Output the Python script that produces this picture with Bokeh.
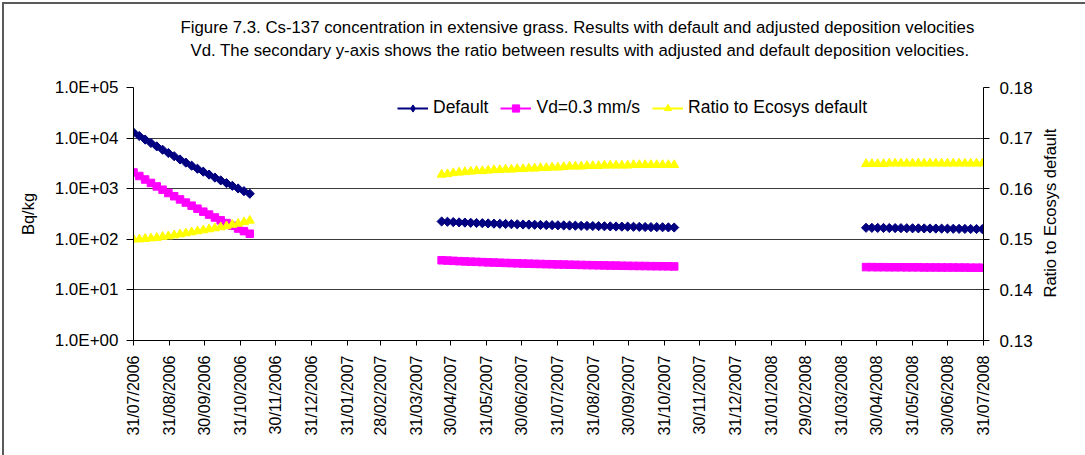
import math
import numpy as np
import pandas as pd
from bokeh.plotting import figure
from bokeh.models import (Range1d, LinearAxis, LinearScale, FixedTicker,
                          Legend, LegendItem, Title)
from bokeh.embed import file_html
from bokeh.resources import INLINE

FONT = "Liberation Sans"

title_lines = [
    "Figure 7.3. Cs-137 concentration in extensive grass. Results with default and adjusted deposition velocities",
    "Vd. The secondary y-axis shows the ratio between results with adjusted and default deposition velocities.",
]

# first output date of each growing season; results every 5 days
season_starts = ["2006-07-31", "2007-04-22", "2008-04-21"]
step_days = 5

# Bq/kg with the default deposition velocity
default_bq = [
    [12900, 11000, 9350, 8000, 6860, 5890, 5070, 4380, 3780, 3280, 2850,
     2480, 2170, 1900, 1660, 1460, 1290, 1140, 1010, 893, 795],
    [225, 222, 219, 216, 214, 212, 210, 208, 206, 204, 202, 201, 199, 198,
     196, 195, 194, 192, 191, 190, 189, 188, 187, 186, 185, 184, 183, 182,
     181, 180, 179, 178, 178, 177, 176, 175, 174, 174, 173, 172, 171],
    [169, 168.5, 168, 167.5, 167, 166.5, 166, 165.5, 165, 164.5, 164, 163.5,
     163, 162.5, 162, 161.5, 161, 160.5, 160, 159.5, 159],
]

# Bq/kg with Vd = 0.3 mm/s
vd03_bq = [
    [2090, 1780, 1520, 1300, 1110, 955, 822, 710, 614, 532, 462, 403, 352,
     308, 270, 237, 209, 185, 163, 145, 129],
    [38.5, 38.0, 37.5, 37.0, 36.6, 36.2, 35.8, 35.4, 35.0, 34.7, 34.4, 34.1,
     33.8, 33.5, 33.2, 33.0, 32.7, 32.5, 32.3, 32.1, 31.9, 31.7, 31.5, 31.3,
     31.1, 30.9, 30.8, 30.6, 30.5, 30.3, 30.2, 30.0, 29.9, 29.8, 29.7, 29.6,
     29.5, 29.4, 29.3, 29.2, 29.1],
    [28.2, 28.2, 28.1, 28.1, 28.0, 28.0, 28.0, 27.9, 27.9, 27.9, 27.8, 27.8,
     27.8, 27.7, 27.7, 27.7, 27.6, 27.6, 27.5, 27.5, 27.4],
]

# ratio to the Ecosys default (secondary axis)
ratio_vals = [
    [0.1500, 0.1500, 0.1501, 0.1502, 0.1503, 0.1505, 0.1506, 0.1508, 0.1510,
     0.1512, 0.1514, 0.1516, 0.1518, 0.1520, 0.1522, 0.1524, 0.1526, 0.1529,
     0.1531, 0.1534, 0.1537],
    [0.1628, 0.1629, 0.1631, 0.1632, 0.1633, 0.1634, 0.1635, 0.1635, 0.1636,
     0.1637, 0.1637, 0.1638, 0.1638, 0.1639, 0.1639, 0.1640, 0.1640, 0.1641,
     0.1641, 0.1642, 0.1642, 0.1643, 0.1644, 0.1644, 0.1644, 0.1645, 0.1645,
     0.1645, 0.1646, 0.1646, 0.1646, 0.1646, 0.1646, 0.1647, 0.1647, 0.1647,
     0.1647, 0.1647, 0.1647, 0.1647, 0.1647],
    [0.1649, 0.1649, 0.1649, 0.1649, 0.1650, 0.1650, 0.1650, 0.1650, 0.1650,
     0.1650, 0.1650, 0.1650, 0.1650, 0.1650, 0.1650, 0.1650, 0.1650, 0.1650,
     0.1650, 0.1650, 0.1650],
]

x_tick_labels = [
    "31/07/2006", "31/08/2006", "30/09/2006", "31/10/2006", "30/11/2006",
    "31/12/2006", "31/01/2007", "28/02/2007", "31/03/2007", "30/04/2007",
    "31/05/2007", "30/06/2007", "31/07/2007", "31/08/2007", "30/09/2007",
    "31/10/2007", "30/11/2007", "31/12/2007", "31/01/2008", "29/02/2008",
    "31/03/2008", "30/04/2008", "31/05/2008", "30/06/2008", "31/07/2008",
]
y_tick_values = [1, 10, 100, 1000, 10000, 100000]
y_tick_labels = ["1.0E+00", "1.0E+01", "1.0E+02", "1.0E+03", "1.0E+04", "1.0E+05"]
ratio_ticks = [0.13, 0.14, 0.15, 0.16, 0.17, 0.18]
ratio_tick_labels = ["0.13", "0.14", "0.15", "0.16", "0.17", "0.18"]
ratio_axis_title = "Ratio to Ecosys default"


def to_ms(dates):
    return list(pd.DatetimeIndex(dates).values.astype("datetime64[ms]").astype("int64").astype(float))


def joined(segments):
    """Concatenate the seasons, with a NaN break between them."""
    xs, ys = [], []
    for start, vals in zip(season_starts, segments):
        dates = pd.date_range(start, periods=len(vals), freq=f"{step_days}D")
        xs.extend(to_ms(dates))
        ys.extend(vals)
        xs.append(np.nan)
        ys.append(np.nan)
    return xs[:-1], ys[:-1]


x_ticks = to_ms(pd.to_datetime(x_tick_labels, format="%d/%m/%Y"))

p = figure(width=1085, height=455, x_axis_type="datetime", y_axis_type="log",
           x_range=Range1d(x_ticks[0], x_ticks[-1]), y_range=Range1d(1, 1e5),
           output_backend="svg", toolbar_location=None,
           min_border_left=133, min_border_right=102,
           min_border_top=87, min_border_bottom=115)
p.extra_y_ranges = {"ratio": Range1d(0.13, 0.18)}
p.extra_y_scales = {"ratio": LinearScale()}
p.outline_line_color = None
p.background_fill_color = "white"
p.border_fill_color = None
# chart-area frame line along the top and left edges of the page
p.styles = {"background-color": "white",
            "box-shadow": "inset 2px 2px 0 0 white, inset 4px 4px 0 0 #5a5a5a"}

# caption: two lines stacked above the plot area (first added sits nearest)
p.add_layout(Title(text=" ", text_font_size="10px", standoff=14), "above")
for line, off in ((title_lines[1], 57), (title_lines[0], 47)):
    p.add_layout(Title(text=line, text_font=FONT, text_font_size="16.8px",
                       text_font_style="normal", text_color="black",
                       align="left", offset=off, standoff=2), "above")

# axes
xax = p.xaxis[0]
xax.ticker = FixedTicker(ticks=x_ticks)
xax.major_label_overrides = dict(zip(x_ticks, x_tick_labels))
xax.major_label_orientation = math.pi / 2
xax.major_label_text_font_size = "16px"
xax.major_label_standoff = 10
xax.major_tick_out = 5
xax.major_tick_in = 0
xax.minor_tick_line_color = None

yax = p.yaxis[0]
yax.ticker = FixedTicker(ticks=y_tick_values)
yax.major_label_overrides = dict(zip(y_tick_values, y_tick_labels))
yax.axis_label = "Bq/kg"
yax.major_label_text_font_size = "17px"
yax.major_label_standoff = 8
yax.major_tick_out = 7
yax.major_tick_in = 0
yax.minor_tick_line_color = None
yax.axis_label_standoff = 15

rax = LinearAxis(y_range_name="ratio", ticker=FixedTicker(ticks=ratio_ticks))
rax.major_label_overrides = dict(zip(ratio_ticks, ratio_tick_labels))
rax.major_label_text_font_size = "17px"
rax.major_label_standoff = 10
rax.major_tick_out = 6
rax.major_tick_in = 0
rax.minor_tick_line_color = None
p.add_layout(rax, "right")

for ax in (xax, yax, rax):
    ax.axis_line_color = "black"
    ax.axis_line_width = 1
    ax.major_tick_line_color = "black"
    ax.major_label_text_font = FONT
    ax.major_label_text_color = "black"
    ax.axis_label_text_font = FONT
    ax.axis_label_text_font_size = "16.5px"
    ax.axis_label_text_font_style = "normal"
    ax.axis_label_text_color = "black"

# secondary axis title, reading bottom to top; its text starts at this ratio level
title_start = 0.1385
rtitle = LinearAxis(y_range_name="ratio", ticker=FixedTicker(ticks=[title_start]),
                    axis_line_color=None, major_tick_line_color=None,
                    minor_tick_line_color=None, major_label_standoff=9,
                    major_label_orientation=math.pi / 2,
                    major_label_text_font=FONT, major_label_text_font_size="16.5px",
                    major_label_text_color="black")
rtitle.major_label_overrides = {title_start: ratio_axis_title}
p.add_layout(rtitle, "right")

p.xgrid.visible = False
p.ygrid.ticker = FixedTicker(ticks=[10, 100, 1000, 10000])
p.ygrid.grid_line_color = "#3a3a3a"
p.ygrid.grid_line_width = 1.2

# series
NAVY, MAGENTA, YELLOW = "#000080", "#FF00FF", "#FFFF00"

xd, yd = joined(default_bq)
xv, yv = joined(vd03_bq)
xr, yr = joined(ratio_vals)

l1 = p.line(xd, yd, line_color=NAVY, line_width=2)
s1 = p.scatter(xd, yd, marker="square", angle=math.pi / 4, size=6.5,
               fill_color=NAVY, line_color=NAVY)
l2 = p.line(xv, yv, line_color=MAGENTA, line_width=2)
s2 = p.scatter(xv, yv, marker="square", size=7.5,
               fill_color=MAGENTA, line_color=MAGENTA)
l3 = p.line(xr, yr, line_color=YELLOW, line_width=2, y_range_name="ratio")
s3 = p.scatter(xr, yr, marker="triangle", size=9, y_range_name="ratio",
               fill_color=YELLOW, line_color=YELLOW)

# diamond key for the legend (the data markers are rotated squares)
k1 = p.scatter([np.nan], [np.nan], marker="diamond", fill_color=NAVY, line_color=NAVY)

legend = Legend(items=[LegendItem(label="Default", renderers=[l1, k1]),
                       LegendItem(label="Vd=0.3 mm/s", renderers=[l2, s2]),
                       LegendItem(label="Ratio to Ecosys default", renderers=[l3, s3])],
                orientation="horizontal", location=(264, 222),
                glyph_width=31, glyph_height=18, label_height=18,
                label_standoff=5, spacing=12, padding=0, margin=0,
                label_text_font=FONT, label_text_font_size="17.5px",
                label_text_color="black",
                border_line_color=None, background_fill_alpha=0)
p.add_layout(legend)

open("out.html", "w").write(file_html(p, INLINE))
